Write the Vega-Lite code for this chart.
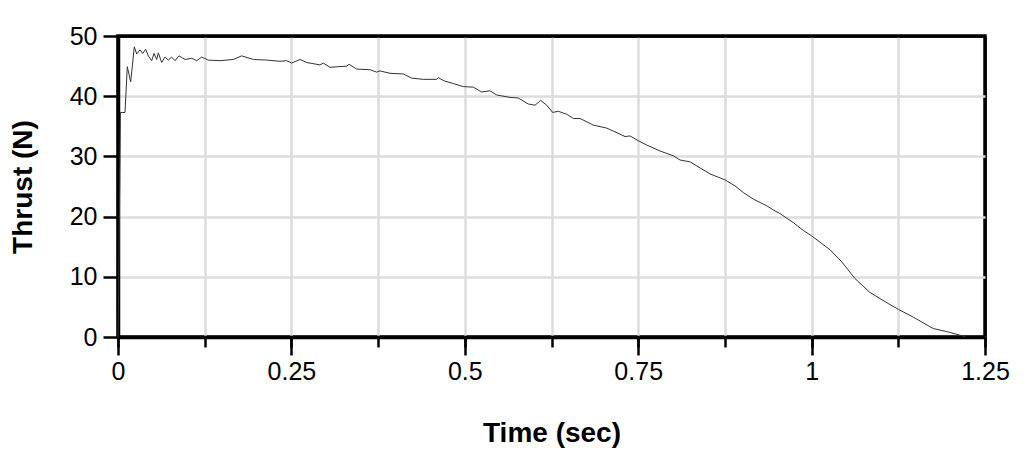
{
  "$schema": "https://vega.github.io/schema/vega-lite/v6.json",
  "width": 867,
  "height": 301,
  "autosize": {"type": "none"},
  "padding": {"left": 118, "top": 36, "right": 39, "bottom": 119},
  "background": "white",
  "config": {
    "view": {"stroke": "black", "strokeWidth": 3.5},
    "font": "Liberation Sans",
    "axis": {
      "labelFont": "Liberation Sans",
      "labelFontSize": 25,
      "labelColor": "black",
      "labelFlush": false,
      "titleFont": "Liberation Sans",
      "titleFontSize": 28,
      "titleFontWeight": "bold",
      "titleColor": "black",
      "domainColor": "black",
      "domainWidth": 3.5,
      "tickColor": "black",
      "tickWidth": 2.5,
      "gridColor": "#dcdcdc",
      "gridWidth": 2.5,
      "gridOpacity": 1
    }
  },
  "data": {
    "values": [
      {"t": 0, "F": 0},
      {"t": 0.001, "F": 8},
      {"t": 0.0035, "F": 37.3},
      {"t": 0.0101, "F": 37.3},
      {"t": 0.0134, "F": 44.9},
      {"t": 0.0183, "F": 42.4},
      {"t": 0.0235, "F": 48.2},
      {"t": 0.027, "F": 47.0},
      {"t": 0.0317, "F": 47.7},
      {"t": 0.0356, "F": 47.1},
      {"t": 0.0399, "F": 47.8},
      {"t": 0.0437, "F": 46.7},
      {"t": 0.0486, "F": 45.9},
      {"t": 0.0519, "F": 47.1},
      {"t": 0.0558, "F": 46.1},
      {"t": 0.0581, "F": 47.2},
      {"t": 0.063, "F": 45.6},
      {"t": 0.0678, "F": 46.5},
      {"t": 0.0725, "F": 46.0},
      {"t": 0.0774, "F": 46.5},
      {"t": 0.0822, "F": 45.9},
      {"t": 0.0879, "F": 46.7},
      {"t": 0.0966, "F": 46.1},
      {"t": 0.1063, "F": 46.3},
      {"t": 0.1135, "F": 45.9},
      {"t": 0.1207, "F": 46.5},
      {"t": 0.1302, "F": 46.0},
      {"t": 0.1471, "F": 45.9},
      {"t": 0.1662, "F": 46.1},
      {"t": 0.1783, "F": 46.7},
      {"t": 0.1951, "F": 46.1},
      {"t": 0.2144, "F": 46.0},
      {"t": 0.2336, "F": 45.8},
      {"t": 0.2432, "F": 45.9},
      {"t": 0.2504, "F": 45.5},
      {"t": 0.2624, "F": 46.1},
      {"t": 0.2721, "F": 45.6},
      {"t": 0.2912, "F": 45.2},
      {"t": 0.296, "F": 45.5},
      {"t": 0.3057, "F": 44.8},
      {"t": 0.3297, "F": 45.0},
      {"t": 0.3331, "F": 45.3},
      {"t": 0.3442, "F": 44.5},
      {"t": 0.3633, "F": 44.4},
      {"t": 0.373, "F": 44.0},
      {"t": 0.3777, "F": 44.2},
      {"t": 0.3922, "F": 43.8},
      {"t": 0.4113, "F": 43.7},
      {"t": 0.4234, "F": 43.0},
      {"t": 0.4402, "F": 42.8},
      {"t": 0.4595, "F": 42.8},
      {"t": 0.4618, "F": 43.1},
      {"t": 0.469, "F": 42.6},
      {"t": 0.4834, "F": 42.1},
      {"t": 0.4978, "F": 41.6},
      {"t": 0.5123, "F": 41.5},
      {"t": 0.5244, "F": 40.7},
      {"t": 0.5363, "F": 40.9},
      {"t": 0.546, "F": 40.2},
      {"t": 0.5652, "F": 39.8},
      {"t": 0.5771, "F": 39.7},
      {"t": 0.5916, "F": 38.7},
      {"t": 0.6012, "F": 38.5},
      {"t": 0.6094, "F": 39.3},
      {"t": 0.6181, "F": 38.5},
      {"t": 0.6267, "F": 37.3},
      {"t": 0.6348, "F": 37.5},
      {"t": 0.6469, "F": 37.0},
      {"t": 0.6565, "F": 36.3},
      {"t": 0.6661, "F": 36.3},
      {"t": 0.6853, "F": 35.2},
      {"t": 0.7046, "F": 34.7},
      {"t": 0.7238, "F": 33.7},
      {"t": 0.731, "F": 33.3},
      {"t": 0.7382, "F": 33.4},
      {"t": 0.7501, "F": 32.6},
      {"t": 0.7622, "F": 31.9},
      {"t": 0.7814, "F": 30.9},
      {"t": 0.8006, "F": 30.1},
      {"t": 0.8103, "F": 29.4},
      {"t": 0.8247, "F": 29.1},
      {"t": 0.8535, "F": 27.1},
      {"t": 0.8752, "F": 26.1},
      {"t": 0.8896, "F": 25.1},
      {"t": 0.9015, "F": 24.0},
      {"t": 0.916, "F": 22.9},
      {"t": 0.9353, "F": 21.8},
      {"t": 0.9448, "F": 21.1},
      {"t": 0.9544, "F": 20.5},
      {"t": 0.9736, "F": 19.0},
      {"t": 0.988, "F": 17.7},
      {"t": 1.0001, "F": 16.8},
      {"t": 1.0265, "F": 14.5},
      {"t": 1.0434, "F": 12.5},
      {"t": 1.0626, "F": 9.7},
      {"t": 1.0842, "F": 7.4},
      {"t": 1.1083, "F": 5.7},
      {"t": 1.125, "F": 4.6},
      {"t": 1.1466, "F": 3.3},
      {"t": 1.1754, "F": 1.4},
      {"t": 1.1948, "F": 0.9},
      {"t": 1.214, "F": 0.3},
      {"t": 1.222, "F": 0}
    ]
  },
  "layer": [
    {
      "mark": {"type": "line", "color": "#333", "strokeWidth": 1, "opacity": 0},
      "encoding": {
        "x": {
          "field": "t", "type": "quantitative",
          "scale": {"domain": [0, 1.25], "nice": false, "zero": false},
          "axis": {
            "orient": "bottom",
            "values": [0, 0.125, 0.25, 0.375, 0.5, 0.625, 0.75, 0.875, 1, 1.125, 1.25],
            "grid": true, "labels": false, "domain": false, "ticks": true,
            "gridColor": {"condition": {"test": "datum.value > 1.24", "value": "black"}, "value": "#dcdcdc"},
            "tickSize": 10, "title": null
          }
        },
        "y": {
          "field": "F", "type": "quantitative",
          "scale": {"domain": [0, 50], "nice": false},
          "axis": {
            "values": [0, 10, 20, 30, 40, 50],
            "grid": true, "tickSize": 15, "labelPadding": 6,
            "gridColor": {"condition": {"test": "datum.value > 49", "value": "black"}, "value": "#dcdcdc"},
            "title": "Thrust (N)", "titlePadding": 32
          }
        }
      }
    },
    {
      "mark": {"type": "line", "color": "#333", "strokeWidth": 1},
      "encoding": {
        "x": {
          "field": "t", "type": "quantitative",
          "axis": {
            "orient": "bottom",
            "values": [0, 0.25, 0.5, 0.75, 1, 1.25],
            "labelExpr": "format(datum.value, '~g')",
            "grid": false, "tickSize": 18, "labelPadding": 4,
            "title": "Time (sec)", "titlePadding": 35
          }
        },
        "y": {"field": "F", "type": "quantitative"}
      }
    }
  ],
  "resolve": {"axis": {"x": "independent"}}
}
